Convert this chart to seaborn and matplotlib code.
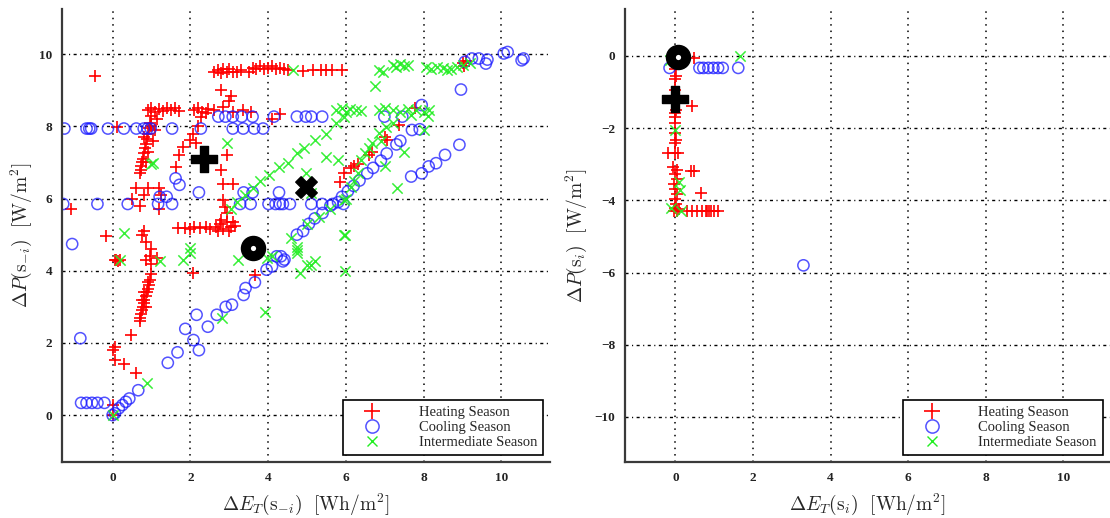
import matplotlib
matplotlib.use("Agg")
import matplotlib.pyplot as plt
from matplotlib.lines import Line2D
import pandas as pd
import seaborn as sns

# ---- data ---------------------------------------------------------------
# left panel: Delta E_T(s_-i) vs Delta P(s_-i)
heat_left = [
    (2.6, 9.5), (2.7, 9.55), (2.8, 9.48), (2.85, 9.6), (2.95, 9.5), (3.0, 9.58),
    (3.1, 9.52), (3.2, 9.5), (3.3, 9.55), (3.5, 9.52), (3.6, 9.62), (3.7, 9.6),
    (3.8, 9.66), (3.9, 9.58), (4.0, 9.62), (4.1, 9.66), (4.2, 9.6), (4.3, 9.62),
    (4.4, 9.6), (4.5, 9.55), (4.9, 9.53), (5.15, 9.55), (5.35, 9.55), (5.5, 9.55),
    (5.65, 9.55), (5.9, 9.55), (9.0, 9.75), (9.1, 9.8), (9.05, 9.68), (-0.46, 9.4),
    (2.8, 9.0), (3.05, 8.85), (3.0, 8.7), (2.85, 8.55),
    (0.9, 8.45), (1.0, 8.5), (1.1, 8.4), (1.2, 8.48), (1.3, 8.42), (1.4, 8.5),
    (1.5, 8.45), (1.6, 8.5), (1.7, 8.42), (2.1, 8.45), (2.2, 8.5), (2.3, 8.4),
    (2.45, 8.48), (2.6, 8.45), (3.1, 8.4), (3.35, 8.45), (3.55, 8.4),
    (0.98, 8.3), (0.95, 8.1), (0.93, 7.95), (0.9, 7.8), (0.88, 7.65), (0.85, 7.5),
    (0.83, 7.4), (0.8, 7.25), (0.78, 7.1), (0.76, 7.0), (0.74, 6.9), (0.72, 6.8),
    (0.7, 6.7), (0.9, 7.3), (1.05, 7.6), (1.1, 7.9), (0.85, 7.0), (1.0, 8.0),
    (0.8, 7.7), (1.15, 8.2),
    (0.11, 7.99), (4.1, 8.2), (4.3, 8.35), (7.77, 8.5), (7.36, 8.04), (7.0, 7.7),
    (7.05, 7.62), (6.67, 7.3), (6.6, 7.2), (6.3, 6.97), (6.12, 6.84), (5.94, 6.7),
    (5.84, 6.47), (6.2, 6.9),
    (1.7, 7.2), (1.62, 6.88), (1.8, 7.44), (2.0, 7.62), (2.08, 7.8), (2.2, 8.0),
    (2.27, 8.27), (2.4, 8.36), (2.15, 7.55),
    (2.95, 7.2), (2.8, 6.8), (2.85, 6.4), (3.1, 6.4), (2.85, 5.96), (2.9, 5.78),
    (2.95, 5.6),
    (2.65, 5.2), (2.75, 5.3), (2.85, 5.15), (2.95, 5.35), (3.05, 5.2), (3.15, 5.25),
    (2.8, 5.4), (3.0, 5.1), (3.1, 5.35), (2.7, 5.1),
    (1.67, 5.18), (1.85, 5.18), (2.0, 5.15), (2.1, 5.2), (2.25, 5.18), (2.4, 5.2),
    (2.5, 5.15),
    (0.6, 6.3), (0.8, 6.1), (0.7, 5.8), (1.2, 5.7), (0.9, 6.3), (1.2, 6.3),
    (1.25, 6.1), (0.5, 6.0), (-0.17, 4.95), (-1.08, 5.7),
    (0.8, 5.1), (0.85, 4.8), (1.0, 4.6), (0.75, 5.0),
    (0.06, 4.3), (0.1, 4.3), (0.15, 4.28), (0.2, 4.3), (0.85, 4.3), (1.0, 4.2),
    (1.15, 4.35), (0.95, 4.4),
    (0.98, 3.9), (0.95, 3.75), (0.93, 3.6), (0.9, 3.5), (0.88, 3.4), (0.85, 3.3),
    (0.82, 3.2), (0.8, 3.1), (0.78, 3.0), (0.75, 2.9), (0.73, 2.8), (0.7, 2.7),
    (0.7, 2.6), (0.9, 3.7), (0.8, 3.4), (0.85, 3.0), (0.75, 3.2),
    (2.08, 3.95), (3.66, 3.89), (0.48, 2.22), (0.06, 1.9), (0.02, 1.8), (0.06, 1.53),
    (0.29, 1.41), (0.6, 1.16), (0.02, 0.28), (0.0, 0.0),
]
cool_left = [
    (-1.24, 7.94), (-0.67, 7.94), (-0.6, 7.94), (-0.55, 7.94), (-0.12, 7.94),
    (0.29, 7.94), (0.61, 7.94), (0.8, 7.94), (0.9, 7.94), (0.98, 7.94), (1.53, 7.94),
    (2.27, 7.94), (3.09, 7.94), (3.36, 7.94), (3.64, 7.94), (3.87, 7.94),
    (2.72, 8.27), (2.9, 8.27), (3.09, 8.27), (3.32, 8.27), (3.6, 8.27), (4.15, 8.27),
    (4.74, 8.27), (4.97, 8.27), (5.11, 8.27), (5.39, 8.27), (6.99, 8.27), (7.45, 8.27),
    (-1.27, 5.85), (-0.39, 5.85), (0.39, 5.85), (1.17, 5.85), (1.53, 5.85),
    (3.28, 5.85), (3.55, 5.85), (4.01, 5.85), (4.19, 5.85), (4.3, 5.85), (4.38, 5.85),
    (4.56, 5.85), (5.11, 5.85), (5.39, 5.85), (5.66, 5.85), (5.94, 5.85),
    (1.21, 6.05), (1.39, 6.05), (1.62, 6.56), (1.72, 6.38), (2.22, 6.17),
    (3.37, 6.17), (3.6, 6.17), (4.28, 6.17), (-1.04, 4.74),
    (4.74, 5.0), (4.9, 5.1), (5.05, 5.3), (5.2, 5.45), (5.4, 5.6), (5.6, 5.8),
    (5.8, 5.9), (5.9, 6.05), (6.05, 6.2), (6.2, 6.35), (6.35, 6.5), (6.55, 6.7),
    (6.7, 6.85), (6.9, 7.05), (7.05, 7.25), (7.3, 7.5), (7.4, 7.6), (7.7, 7.9),
    (7.9, 7.92), (7.95, 8.59),
    (7.68, 6.61), (7.95, 6.7), (8.13, 6.89), (8.32, 6.98), (8.55, 7.21), (8.92, 7.49),
    (8.96, 9.02),
    (9.06, 9.79), (9.24, 9.88), (9.42, 9.88), (9.6, 9.74), (9.64, 9.85),
    (10.06, 10.02), (10.16, 10.06), (10.52, 9.83), (10.57, 9.88),
    (4.22, 4.4), (4.33, 4.4), (4.38, 4.26), (4.42, 4.31), (1.42, 1.45), (1.67, 1.74),
    (1.87, 2.39), (2.08, 2.08), (2.22, 1.8), (2.16, 2.78), (2.45, 2.45), (2.68, 2.78),
    (2.91, 3.0), (3.07, 3.06), (3.37, 3.33), (3.42, 3.52), (3.66, 3.68), (3.96, 4.03),
    (4.1, 4.12), (-0.83, 2.13),
    (-0.81, 0.34), (-0.67, 0.34), (-0.53, 0.34), (-0.39, 0.34), (-0.21, 0.34),
    (0.0, 0.0), (0.06, 0.05), (0.16, 0.19), (0.25, 0.28), (0.34, 0.37), (0.43, 0.46),
    (0.66, 0.69),
]
inter_left = [
    (4.65, 9.56), (6.85, 9.55), (6.95, 9.52), (7.2, 9.7), (7.3, 9.65), (7.4, 9.72),
    (7.5, 9.68), (7.6, 9.7), (8.05, 9.65), (8.2, 9.6), (8.35, 9.65), (8.5, 9.62),
    (8.6, 9.55), (8.7, 9.6), (8.85, 9.65), (9.0, 9.7), (9.2, 9.75), (6.76, 9.12),
    (5.75, 8.45), (5.9, 8.5), (6.0, 8.4), (6.1, 8.48), (6.25, 8.45), (6.4, 8.42),
    (6.85, 8.45), (7.0, 8.5), (7.2, 8.45), (7.4, 8.4), (7.6, 8.48), (7.8, 8.45),
    (8.0, 8.4), (8.1, 8.3),
    (4.01, 6.65), (4.28, 6.88), (4.51, 6.98), (4.74, 7.25), (4.93, 7.39), (5.2, 7.62),
    (5.48, 7.8), (5.75, 8.08), (5.94, 8.27), (3.8, 6.5), (3.6, 6.3), (3.4, 6.1),
    (3.2, 5.9), (3.05, 5.7),
    (5.94, 5.96), (6.12, 6.33), (6.3, 6.7), (6.39, 7.07), (6.48, 7.25), (6.67, 7.53),
    (6.85, 7.81), (7.04, 7.99), (7.22, 8.08), (7.68, 8.31), (8.14, 8.45), (6.2, 6.5),
    (6.6, 7.4), (6.9, 7.6),
    (4.6, 4.9), (5.0, 5.3), (5.3, 5.5), (5.6, 5.7), (6.0, 6.0), (7.0, 6.9),
    (7.5, 7.3), (8.0, 7.9),
    (7.31, 6.29), (5.98, 5.0), (4.97, 6.7), (5.48, 7.16), (5.8, 7.07), (2.95, 7.53),
    (1.03, 6.98), (0.29, 5.04), (1.99, 4.63), (5.11, 6.15), (4.74, 4.67),
    (0.2, 4.3), (1.21, 4.26), (1.81, 4.31), (2.0, 4.5), (3.23, 4.31), (3.96, 4.35),
    (4.1, 4.4), (4.74, 4.5), (4.83, 3.93), (5.11, 4.17), (5.2, 4.26), (5.98, 4.0),
    (5.96, 4.99), (3.92, 2.87), (2.82, 2.69), (0.89, 0.88), (0.0, 0.0), (4.73, 4.57),
    (5.01, 4.16), (1.0, 6.95),
]
centre_left = {"plus": (2.36, 7.09), "cross": (4.97, 6.33), "circle": (3.6, 4.63)}

# right panel: Delta E_T(s_i) vs Delta P(s_i)
heat_right = [
    (0.47, -0.05), (0.0, -0.37), (0.02, -0.56), (0.0, -0.65), (-0.02, -0.93),
    (0.0, -1.12), (0.02, -1.49), (0.0, -1.59), (0.0, -1.68), (-0.02, -1.86),
    (0.0, -2.14), (0.02, -2.33), (0.0, -2.42), (0.0, -2.7), (-0.05, -3.08),
    (0.05, -3.17), (0.0, -3.26), (0.03, -3.4), (-0.03, -3.54), (0.0, -3.68),
    (0.05, -3.82), (0.0, -3.96), (0.02, -4.1), (0.0, -4.2), (0.05, -4.3),
    (-0.03, -4.3), (0.1, -4.25), (0.42, -1.38), (-0.19, -2.7), (0.07, -2.7),
    (0.47, -3.2), (0.4, -3.2), (0.65, -3.8), (0.29, -4.3), (0.42, -4.3), (0.56, -4.3),
    (0.69, -4.3), (0.78, -4.3), (0.82, -4.3), (0.86, -4.3), (0.91, -4.3), (1.0, -4.3),
    (1.09, -4.3),
]
cool_right = [
    (-0.15, -0.33), (0.12, -0.03), (0.62, -0.33), (0.72, -0.33), (0.85, -0.33),
    (0.98, -0.33), (1.1, -0.33), (1.22, -0.33), (1.62, -0.33), (3.3, -5.8),
]
inter_right = [
    (1.66, 0.0), (-0.15, -0.1), (0.0, -2.05), (0.1, -3.5), (0.15, -4.3),
    (-0.1, -4.2), (0.12, -3.7),
]
centre_right = {"plus": (0.0, -1.19), "circle": (0.07, -0.03)}

SEASONS = ["Heating Season", "Cooling Season", "Intermediate Season"]
COLORS = {"Heating Season": "#ff0000", "Cooling Season": "#1a1aff",
          "Intermediate Season": "#22ee22"}

sns.set_style("white")
plt.rcParams["font.family"] = ["Liberation Serif", "DejaVu Serif"]
plt.rcParams["mathtext.fontset"] = "cm"


def draw_panel(ax, heat, cool, inter, centres, xlab, ylab, xlim, ylim, yticks):
    frames = {
        "Heating Season": pd.DataFrame(heat, columns=["dE", "dP"]),
        "Cooling Season": pd.DataFrame(cool, columns=["dE", "dP"]),
        "Intermediate Season": pd.DataFrame(inter, columns=["dE", "dP"]),
    }
    sns.scatterplot(data=frames["Heating Season"], x="dE", y="dP", ax=ax,
                    marker="+", s=85, linewidth=1.2, color=COLORS["Heating Season"])
    sns.scatterplot(data=frames["Cooling Season"], x="dE", y="dP", ax=ax,
                    marker="o", s=65, linewidth=1.1, facecolors="none",
                    edgecolor=COLORS["Cooling Season"], alpha=0.75)
    sns.scatterplot(data=frames["Intermediate Season"], x="dE", y="dP", ax=ax,
                    marker="x", s=55, linewidth=1.1, color=COLORS["Intermediate Season"],
                    alpha=0.9)

    if "plus" in centres:
        ax.scatter(*centres["plus"], marker="P", s=360, color="black", zorder=5)
    if "cross" in centres:
        ax.scatter(*centres["cross"], marker="X", s=240, color="black", zorder=5)
    if "circle" in centres:
        ax.scatter(*centres["circle"], marker="o", s=300, color="black", zorder=5)
        ax.scatter(*centres["circle"], marker="o", s=14, color="white",
                   linewidth=0, zorder=6)

    ax.set_xlim(*xlim)
    ax.set_ylim(*ylim)
    ax.set_xticks([0, 2, 4, 6, 8, 10])
    ax.set_yticks(yticks)
    ax.set_xticklabels(["0", "2", "4", "6", "8", "10"])
    ax.set_yticklabels([f"{t}".replace("-", "\u2212") for t in yticks])
    ax.tick_params(length=0, labelsize=9.5, pad=7, labelcolor="#222222")
    for lab in ax.get_xticklabels() + ax.get_yticklabels():
        lab.set_fontweight("bold")

    for t in [0, 2, 4, 6, 8, 10]:
        ax.axvline(t, color="black", lw=1.1, ls=(0, (1, 3.2)), zorder=0)
    for t in yticks:
        ax.axhline(t, color="black", lw=1.0, ls=(0, (2.2, 2.5, 0.8, 2.5)), zorder=0)

    for side in ["top", "right"]:
        ax.spines[side].set_visible(False)
    for side in ["left", "bottom"]:
        ax.spines[side].set_color("#3a3a3a")
        ax.spines[side].set_linewidth(1.6)

    ax.set_xlabel(xlab, fontsize=14, labelpad=6)
    ax.set_ylabel(ylab, fontsize=14, labelpad=4)

    handles = [
        Line2D([], [], ls="none", marker="+", ms=11, mew=1.2, color=COLORS["Heating Season"]),
        Line2D([], [], ls="none", marker="o", ms=9.5, mew=1.1, mfc="none",
               mec=COLORS["Cooling Season"], alpha=0.75),
        Line2D([], [], ls="none", marker="x", ms=7, mew=1.0, color=COLORS["Intermediate Season"]),
    ]
    leg = ax.legend(handles, SEASONS, loc="lower right", fontsize=10.5, frameon=True,
                    fancybox=False, framealpha=1, edgecolor="black",
                    handlelength=3.2, handletextpad=1.6, borderpad=0.4,
                    labelspacing=0.12, borderaxespad=0.5)
    leg.get_frame().set_linewidth(1.2)


fig = plt.figure(figsize=(11.1, 5.18), dpi=100)
ax_l = fig.add_axes([0.0559, 0.108, 0.4396, 0.8745])
ax_r = fig.add_axes([0.563, 0.108, 0.437, 0.8745])

draw_panel(ax_l, heat_left, cool_left, inter_left, centre_left,
           r"$\Delta E_T(\mathrm{s}_{-i})\ \ [\mathrm{Wh/m}^2]$",
           r"$\Delta P(\mathrm{s}_{-i})\ \ [\mathrm{W/m}^2]$",
           (-1.3, 11.25), (-1.3, 11.25), [0, 2, 4, 6, 8, 10])
draw_panel(ax_r, heat_right, cool_right, inter_right, centre_right,
           r"$\Delta E_T(\mathrm{s}_{i})\ \ [\mathrm{Wh/m}^2]$",
           r"$\Delta P(\mathrm{s}_{i})\ \ [\mathrm{W/m}^2]$",
           (-1.3, 11.2), (-11.25, 1.3), [-10, -8, -6, -4, -2, 0])

fig.savefig("out.png", dpi=100)
plt.close(fig)
